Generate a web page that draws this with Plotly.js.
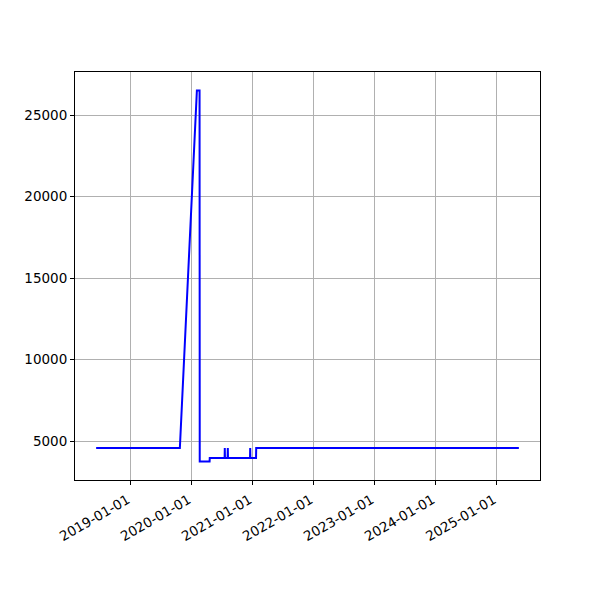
<!DOCTYPE html>
<html>
<head>
<meta charset="utf-8">
<script src="https://cdn.plot.ly/plotly-3.0.1.min.js"></script>
<style>html,body{margin:0;padding:0;background:#fff;}#chart{width:600px;height:600px;}</style>
</head>
<body>
<div id="chart"></div>
<script>
const dates = ['2018-06-09','2019-10-23','2020-02-02','2020-02-18','2020-02-19','2020-04-18','2020-04-19','2020-07-17','2020-07-18','2020-07-19','2020-08-04','2020-08-05','2020-08-06','2020-12-16','2020-12-17','2020-12-18','2021-01-21','2021-01-22','2025-05-13'];
const values = [4580,4580,26500,26500,3760,3760,3970,3970,4580,3970,3970,4580,3970,3970,4580,3970,3970,4580,4580];
const tickDates = ['2019-01-01','2020-01-01','2021-01-01','2022-01-01','2023-01-01','2024-01-01','2025-01-01'];
const yTicks = [5000,10000,15000,20000,25000];

const t = dates.map(d => new Date(d + 'T00:00:00Z').getTime());
const tmin = Math.min(...t), tmax = Math.max(...t);
const tpad = (tmax - tmin) * 0.05;
const iso = ms => new Date(ms).toISOString().slice(0, 19).replace('T', ' ');
const vmin = Math.min(...values), vmax = Math.max(...values);
const vpad = (vmax - vmin) * 0.05;

const font = {family: 'DejaVu Sans, sans-serif', size: 13.5, color: '#000'};
const axisCommon = {
  showline: true, linecolor: '#000', linewidth: 1, mirror: true,
  ticks: 'outside', ticklen: 4, tickwidth: 1, tickcolor: '#000',
  showgrid: true, gridcolor: '#b0b0b0', gridwidth: 1,
  zeroline: false, tickfont: font
};

Plotly.newPlot('chart', [{
  x: dates, y: values, type: 'scatter', mode: 'lines',
  line: {color: '#0000ff', width: 2}
}], {
  width: 600, height: 600,
  margin: {l: 75, r: 60, t: 72, b: 120},
  paper_bgcolor: '#fff', plot_bgcolor: '#fff',
  showlegend: false,
  font: font,
  xaxis: Object.assign({}, axisCommon, {
    type: 'date', range: [iso(tmin - tpad), iso(tmax + tpad)],
    tickmode: 'array', tickvals: tickDates, ticktext: tickDates,
    tickangle: -30, ticklabelshift: -3, ticklabelstandoff: 2
  }),
  yaxis: Object.assign({}, axisCommon, {
    range: [vmin - vpad, vmax + vpad],
    tickmode: 'array', tickvals: yTicks, ticktext: yTicks.map(String)
  })
}, {staticPlot: true});
</script>
</body>
</html>
